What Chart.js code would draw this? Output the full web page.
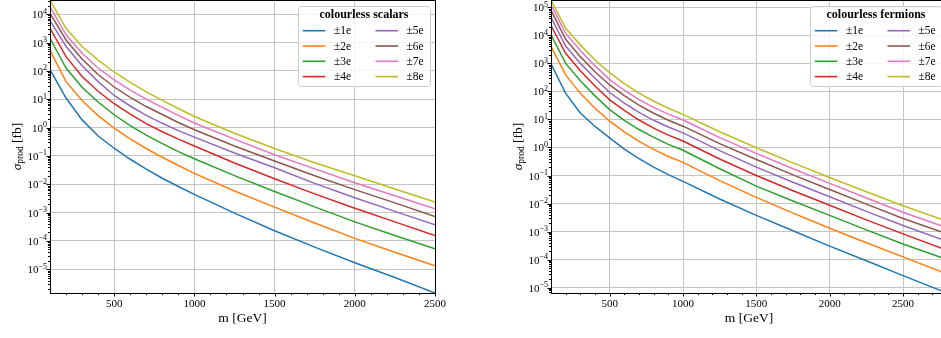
<!DOCTYPE html>
<html>
<head>
<meta charset="utf-8">
<script src="https://cdn.jsdelivr.net/npm/chart.js@4.4.1/dist/chart.umd.min.js"></script>
<style>
    html, body { margin: 0; padding: 0; background: #fff; overflow: hidden; }
    #wrap { position: relative; width: 941px; height: 338px; overflow: hidden; }
    canvas { position: absolute; top: 0; }
    #scalars { left: 0; width: 470px; height: 338px; }
    #fermions { left: 480px; width: 480px; height: 338px; }
</style>
</head>
<body>
<div id="wrap">
    <canvas id="scalars" width="470" height="338"></canvas>
    <canvas id="fermions" width="480" height="338"></canvas>
</div>
<script>
// charges and colours (matplotlib tab10)
const charges = ['±1e', '±2e', '±3e', '±4e', '±5e', '±6e', '±7e', '±8e'];
const colours = ['#1f77b4', '#ff7f0e', '#2ca02c', '#d62728', '#9467bd', '#8c564b', '#e377c2', '#bcbd22'];

// colourless scalars, sigma_prod [fb] vs m [GeV]
const scalarMass = [100, 200, 300, 400, 500, 600, 700, 800, 900, 1000, 1250, 1500, 1750, 2000, 2250, 2500];
const scalarQ1 = [1.10e2, 1.10e1, 1.86e0, 5.01e-1, 1.86e-1, 7.59e-2, 3.39e-2, 1.62e-2, 8.32e-3, 4.37e-3, 9.55e-4, 2.29e-4, 6.03e-5, 1.70e-5, 5.13e-6, 1.45e-6];
const scalarQ2 = [5.25e2, 4.17e1, 8.91e0, 2.63e0, 9.55e-1, 3.98e-1, 1.82e-1, 8.91e-2, 4.57e-2, 2.40e-2, 5.75e-3, 1.55e-3, 4.27e-4, 1.23e-4, 3.98e-5, 1.32e-5];
const scalarQ3 = [1.41e3, 1.26e2, 2.63e1, 7.94e0, 2.82e0, 1.17e0, 5.37e-1, 2.69e-1, 1.41e-1, 7.94e-2, 2.00e-2, 5.50e-3, 1.58e-3, 4.68e-4, 1.55e-4, 5.25e-5];
const scalarQ4 = [3.16e3, 3.16e2, 6.31e1, 1.91e1, 6.92e0, 2.95e0, 1.38e0, 7.08e-1, 3.89e-1, 2.24e-1, 5.62e-2, 1.55e-2, 4.57e-3, 1.41e-3, 4.68e-4, 1.55e-4];
const scalarQ5 = [5.89e3, 7.24e2, 1.51e2, 4.17e1, 1.35e1, 5.75e0, 2.69e0, 1.41e0, 7.76e-1, 4.57e-1, 1.26e-1, 3.80e-2, 1.07e-2, 3.31e-3, 1.10e-3, 3.72e-4];
const scalarQ6 = [1.07e4, 1.23e3, 2.63e2, 7.41e1, 2.69e1, 1.15e1, 5.50e0, 2.88e0, 1.51e0, 8.32e-1, 2.24e-1, 6.61e-2, 2.00e-2, 6.46e-3, 2.19e-3, 7.24e-4];
const scalarQ7 = [1.86e4, 1.86e3, 4.17e2, 1.26e2, 4.79e1, 2.09e1, 1.00e1, 5.13e0, 2.69e0, 1.45e0, 3.89e-1, 1.10e-1, 3.47e-2, 1.12e-2, 3.89e-3, 1.35e-3];
const scalarQ8 = [3.16e4, 3.16e3, 7.24e2, 2.40e2, 9.12e1, 3.89e1, 1.82e1, 9.12e0, 4.68e0, 2.45e0, 6.31e-1, 1.82e-1, 5.75e-2, 2.00e-2, 6.76e-3, 2.34e-3];

// colourless fermions
const fermionMass = [100, 200, 300, 400, 500, 600, 700, 800, 900, 1000, 1250, 1500, 1750, 2000, 2250, 2500, 2800];
const fermionQ1 = [9.55e2, 8.51e1, 1.70e1, 5.62e0, 2.19e0, 8.71e-1, 3.98e-1, 2.00e-1, 1.07e-1, 6.17e-2, 1.45e-2, 3.80e-3, 1.07e-3, 3.02e-4, 9.12e-5, 2.69e-5, 6.46e-6];
const fermionQ2 = [4.07e3, 3.89e2, 8.51e1, 2.51e1, 8.71e0, 3.63e0, 1.66e0, 8.51e-1, 4.79e-1, 2.95e-1, 6.61e-2, 1.66e-2, 4.57e-3, 1.32e-3, 3.98e-4, 1.26e-4, 3.09e-5];
const fermionQ3 = [1.05e4, 1.00e3, 2.40e2, 6.92e1, 2.24e1, 9.33e0, 4.37e0, 2.29e0, 1.29e0, 7.94e-1, 1.74e-1, 4.17e-2, 1.23e-2, 3.80e-3, 1.15e-3, 3.63e-4, 1.00e-4];
const fermionQ4 = [2.24e4, 2.29e3, 5.50e2, 1.55e2, 5.01e1, 2.09e1, 9.55e0, 4.90e0, 2.75e0, 1.70e0, 3.89e-1, 1.00e-1, 2.88e-2, 8.71e-3, 2.63e-3, 8.32e-4, 2.14e-4];
const fermionQ5 = [4.37e4, 4.17e3, 1.00e3, 2.95e2, 9.12e1, 3.80e1, 1.78e1, 9.33e0, 5.37e0, 3.31e0, 7.76e-1, 2.00e-1, 5.75e-2, 1.74e-2, 5.25e-3, 1.66e-3, 4.47e-4];
const fermionQ6 = [7.76e4, 7.24e3, 1.74e3, 5.01e2, 1.70e2, 7.08e1, 3.24e1, 1.66e1, 9.33e0, 5.75e0, 1.38e0, 3.72e-1, 1.05e-1, 3.16e-2, 9.55e-3, 2.95e-3, 8.32e-4];
const fermionQ7 = [1.23e5, 1.17e4, 2.88e3, 8.13e2, 2.63e2, 1.10e2, 5.13e1, 2.69e1, 1.55e1, 9.55e0, 2.24e0, 6.17e-1, 1.74e-1, 5.25e-2, 1.58e-2, 4.90e-3, 1.38e-3];
const fermionQ8 = [1.82e5, 1.78e4, 4.57e3, 1.32e3, 4.68e2, 1.91e2, 8.71e1, 4.47e1, 2.51e1, 1.51e1, 3.63e0, 9.77e-1, 2.82e-1, 8.51e-2, 2.63e-2, 8.32e-3, 2.34e-3];

// tick labels
const massTicks = [500, 1000, 1500, 2000, 2500];
const scalarYTicks = [1e-5, 1e-4, 1e-3, 1e-2, 1e-1, 1e0, 1e1, 1e2, 1e3, 1e4];
const fermionYTicks = [1e-5, 1e-4, 1e-3, 1e-2, 1e-1, 1e0, 1e1, 1e2, 1e3, 1e4, 1e5];

const SERIF = "'Liberation Serif', 'DejaVu Serif', serif";

function logMinors(min, max) {
    const out = [];
    for (let e = Math.floor(Math.log10(min)); e <= Math.ceil(Math.log10(max)); e++) {
        for (let k = 2; k <= 9; k++) {
            const v = k * Math.pow(10, e);
            if (v >= min && v <= max) out.push(v);
        }
    }
    return out;
}

// spines, tick marks and 10^n labels (matplotlib style)
const axisFrame = {
    id: 'axisFrame',
    afterDatasetsDraw(chart, args, opts) {
        const { ctx, chartArea: a, scales } = chart;
        const xs = scales.x, ys = scales.y;
        ctx.save();
        ctx.strokeStyle = '#000';
        ctx.lineWidth = 1;
        ctx.beginPath();
        for (let m = xs.min + 100; m <= xs.max; m += 100) {
            const px = Math.round(xs.getPixelForValue(m)) + 0.5;
            const len = massTicks.includes(m) ? 3.5 : 2;
            ctx.moveTo(px, a.bottom);
            ctx.lineTo(px, a.bottom + len);
        }
        opts.yTicks.forEach(v => {
            const py = Math.round(ys.getPixelForValue(v)) + 0.5;
            ctx.moveTo(a.left, py);
            ctx.lineTo(a.left - 3.5, py);
        });
        logMinors(ys.min, ys.max).forEach(v => {
            const py = Math.round(ys.getPixelForValue(v)) + 0.5;
            ctx.moveTo(a.left, py);
            ctx.lineTo(a.left - 2, py);
        });
        ctx.stroke();
        ctx.strokeRect(a.left + 0.5, a.top + 0.5, a.right - a.left, a.bottom - a.top);

        // y tick labels 10^n
        ctx.fillStyle = '#000';
        ctx.textBaseline = 'alphabetic';
        ctx.textAlign = 'left';
        opts.yTicks.forEach(v => {
            const e = String(Math.round(Math.log10(v))).replace('-', '\u2212');
            const py = ys.getPixelForValue(v);
            ctx.font = '8px ' + SERIF;
            const we = ctx.measureText(e).width;
            ctx.font = '11px ' + SERIF;
            const wb = ctx.measureText('10').width;
            const x0 = a.left - 3 - we - wb;
            ctx.fillText('10', x0, py + 4);
            ctx.font = '8px ' + SERIF;
            ctx.fillText(e, x0 + wb, py - 0.5);
        });
        ctx.restore();
    },
    afterDraw(chart) {
        // y axis title: sigma_prod [fb]
        const { ctx, chartArea: a } = chart;
        ctx.save();
        ctx.translate(a.left - 34, (a.top + a.bottom) / 2);
        ctx.rotate(-Math.PI / 2);
        ctx.fillStyle = '#000';
        ctx.textBaseline = 'alphabetic';
        const big = '13.5px ' + SERIF, ital = 'italic 13.5px ' + SERIF, small = '9.5px ' + SERIF;
        ctx.font = ital; const w1 = ctx.measureText('σ').width;
        ctx.font = small; const w2 = ctx.measureText('prod').width;
        ctx.font = big; const w3 = ctx.measureText(' [fb]').width;
        let x = -(w1 + w2 + w3) / 2;
        const base = 4.5;
        ctx.font = ital; ctx.fillText('σ', x, base); x += w1;
        ctx.font = small; ctx.fillText('prod', x, base + 2.5); x += w2;
        ctx.font = big; ctx.fillText(' [fb]', x, base);
        ctx.restore();
    }
};

// two-column legend box with bold title
const legendBox = {
    id: 'legendBox',
    afterDraw(chart, args, opts) {
        const { ctx, chartArea: a } = chart;
        const w = 132, h = 80;
        const bx = a.right - 5 - w, by = 6;
        ctx.save();
        ctx.beginPath();
        ctx.roundRect(bx + 0.5, by + 0.5, w, h, 3);
        ctx.fillStyle = 'rgba(255,255,255,0.8)';
        ctx.fill();
        ctx.strokeStyle = '#cccccc';
        ctx.lineWidth = 1;
        ctx.stroke();
        ctx.fillStyle = '#000';
        ctx.textBaseline = 'middle';
        ctx.textAlign = 'center';
        ctx.font = 'bold 12px ' + SERIF;
        ctx.fillText(opts.title, bx + w / 2, by + 9);
        ctx.textAlign = 'left';
        ctx.font = '11.5px ' + SERIF;
        chart.data.datasets.forEach((d, i) => {
            const col = Math.floor(i / 4), row = i % 4;
            const x0 = bx + (col ? 77.5 : 4.8);
            const yy = by + 24.7 + row * 15.3;
            ctx.strokeStyle = d.borderColor;
            ctx.lineWidth = 1.6;
            ctx.beginPath();
            ctx.moveTo(x0, yy);
            ctx.lineTo(x0 + 22.5, yy);
            ctx.stroke();
            ctx.fillText(d.label, bx + (col ? 108.5 : 36), yy + 0.5);
        });
        ctx.restore();
    }
};

function makeChart(id, title, mass, series, xMax, yMin, yMax, yTicks, yWidth, padRight) {
    return new Chart(document.getElementById(id), {
        type: 'line',
        data: {
            datasets: series.map((vals, i) => ({
                label: charges[i],
                data: mass.map((m, j) => ({ x: m, y: vals[j] })),
                borderColor: colours[i],
                borderWidth: 1.5,
                pointRadius: 0,
                tension: 0,
                fill: false
            }))
        },
        options: {
            responsive: false,
            animation: false,
            devicePixelRatio: 1,
            layout: { padding: { left: 0, top: 0, right: padRight, bottom: 0 }, autoPadding: false },
            plugins: {
                legend: { display: false },
                tooltip: { enabled: false },
                axisFrame: { yTicks: yTicks },
                legendBox: { title: title }
            },
            scales: {
                x: {
                    type: 'linear',
                    min: 100,
                    max: xMax,
                    afterBuildTicks: s => { s.ticks = massTicks.map(v => ({ value: v })); },
                    afterFit: s => { s.height = 45; s.paddingLeft = 0; s.paddingRight = 0; },
                    grid: { color: '#c4c4c4', lineWidth: 1, drawTicks: false },
                    border: { display: false },
                    ticks: { padding: 5, color: '#000', font: { family: SERIF, size: 11 }, maxRotation: 0, callback: v => String(v) },
                    title: { display: true, text: 'm [GeV]', color: '#000', font: { family: SERIF, size: 13.5 }, padding: { top: 0, bottom: 11 } }
                },
                y: {
                    type: 'logarithmic',
                    min: yMin,
                    max: yMax,
                    afterBuildTicks: s => { s.ticks = yTicks.map(v => ({ value: v })); },
                    afterFit: s => { s.width = yWidth; s.paddingTop = 0; s.paddingBottom = 0; },
                    grid: { color: '#c4c4c4', lineWidth: 1, drawTicks: false },
                    border: { display: false },
                    ticks: { display: false }
                }
            }
        },
        plugins: [axisFrame, legendBox]
    });
}

makeChart('scalars', 'colourless scalars', scalarMass,
    [scalarQ1, scalarQ2, scalarQ3, scalarQ4, scalarQ5, scalarQ6, scalarQ7, scalarQ8],
    2500, 1.45e-6, 3.16e4, scalarYTicks, 50, 35);

makeChart('fermions', 'colourless fermions', fermionMass,
    [fermionQ1, fermionQ2, fermionQ3, fermionQ4, fermionQ5, fermionQ6, fermionQ7, fermionQ8],
    2800, 6.46e-6, 1.82e5, fermionYTicks, 71, 13);
</script>
</body>
</html>
